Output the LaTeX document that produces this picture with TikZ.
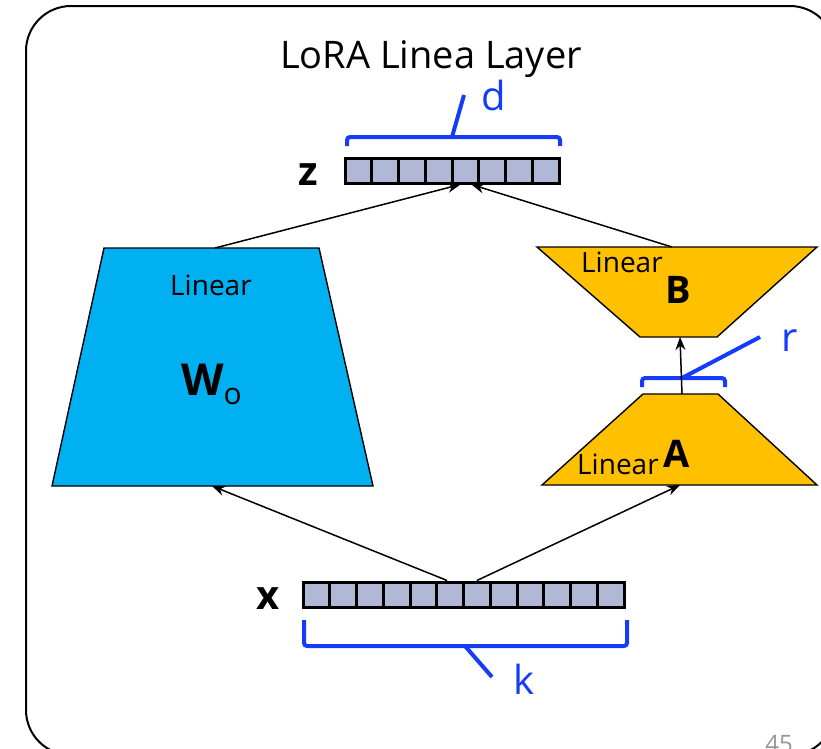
\documentclass[tikz,border=0pt]{standalone}
\usepackage{fontspec}
\setmainfont{Open Sans}
\usetikzlibrary{arrows.meta}

\definecolor{wblue}{RGB}{0,176,240}
\definecolor{lorayellow}{RGB}{255,192,0}
\definecolor{cellgray}{RGB}{176,184,214}
\definecolor{braceblue}{RGB}{20,60,250}
\definecolor{pagegray}{RGB}{150,150,150}

\begin{document}
\begin{tikzpicture}[x=1pt,y=-1pt,
    every node/.style={inner sep=0pt},
    cell/.style={draw, fill=cellgray, line width=3pt, minimum width=26.75pt, minimum height=25pt},
    layer/.style={draw, line width=1.4pt},
    flow/.style={-{Stealth[length=13pt,width=10pt]}, line width=1.5pt},
    brace/.style={draw=braceblue, line width=4pt, rounded corners=3pt},
    dimlabel/.style={text=braceblue, font=\fontsize{40}{40}\selectfont, anchor=base},
    linlabel/.style={font=\fontsize{28}{28}\selectfont, anchor=base west},
    veclabel/.style={font=\fontsize{40}{40}\selectfont\bfseries, anchor=base east}]

      % Definitions
      \def\cw{26.75}   % Width of one vector cell
      \def\zx{345}     % Left edge of z
      \def\xx{303}     % Left edge of x

      \useasboundingbox (0,0) rectangle (821,748);
      \clip (0,0) rectangle (821,748);

      % Frame and title
      \draw [line width=2pt, rounded corners=45pt] (26,6) rectangle (835,755);
      \node [anchor=base, font=\fontsize{38}{40}\selectfont] (title) at (431,68) {LoRA Linea Layer};

      % Vectors
      \foreach \i in {1,...,8}
        \node [cell] (z\i) at ({\zx+(\i-0.5)*\cw},170.5) {};
      \foreach \i in {1,...,12}
        \node [cell] (x\i) at ({\xx+(\i-0.5)*\cw},594.5) {};
      \node [veclabel] (zlabel) at (318,185) {z};
      \node [veclabel] (xlabel) at (280,609) {x};

      % Pretrained layer
      \draw [layer, fill=wblue] (104,248) -- (319,248) -- (373,486) -- (52,486) -- cycle;
      \coordinate (w0top) at (215,248);
      \coordinate (w0bot) at (212,486);
      \node [linlabel] (w0lin) at (170,295) {Linear};
      \node [anchor=base west, font=\fontsize{44}{44}\selectfont\bfseries] (w0) at (181,395)
        {W\raisebox{-9pt}{\fontsize{30}{30}\selectfont\mdseries o}};

      % Low rank layers
      \draw [layer, fill=lorayellow] (537,247) -- (817,247) -- (717,337) -- (640,337) -- cycle;
      \draw [layer, fill=lorayellow] (643,394) -- (718,394) -- (817,485) -- (542,485) -- cycle;
      \coordinate (btop) at (672,247);
      \coordinate (bbot) at (680,337);
      \coordinate (atop) at (682,394);
      \coordinate (abot) at (680,485);
      \node [linlabel] (blin) at (581,272) {Linear};
      \node [anchor=base west, font=\fontsize{38}{38}\selectfont\bfseries] (b) at (665,303) {B};
      \node [anchor=base west, font=\fontsize{38}{38}\selectfont\bfseries] (a) at (663,467) {A};
      \node [linlabel] (alin) at (577,474) {Linear};

      % Dimension brackets
      \draw [brace] (347,146) -- (347,137) -- (560,137) -- (560,146);
      \draw [brace, rounded corners=0pt] (452,137) -- (464,95);
      \node [dimlabel] (d) at (494,110) {d};

      \draw [brace] (304,620) -- (304,646) -- (627,646) -- (627,620);
      \draw [brace, rounded corners=0pt] (465,646) -- (492,677);
      \node [dimlabel] (k) at (524,694) {k};

      \draw [brace] (642,387) -- (642,378) -- (725,378) -- (725,387);
      \draw [brace, rounded corners=0pt] (682,378) -- (760,337);
      \node [dimlabel] (r) at (790,351) {r};

      % Connectors
      \draw [flow] ([xshift=-3pt]x6.north) -- (w0bot);
      \draw [flow] (x7.north) -- (abot);
      \draw [flow] (atop) -- (bbot);
      \draw [flow] (w0top) -- ([xshift=-5pt]z5.south);
      \draw [flow] (btop) -- ([xshift=6pt]z5.south);

      % Page number
      \node [anchor=base, text=pagegray, font=\fontsize{24}{24}\selectfont] (page) at (779,752) {45};

\end{tikzpicture}
\end{document}
